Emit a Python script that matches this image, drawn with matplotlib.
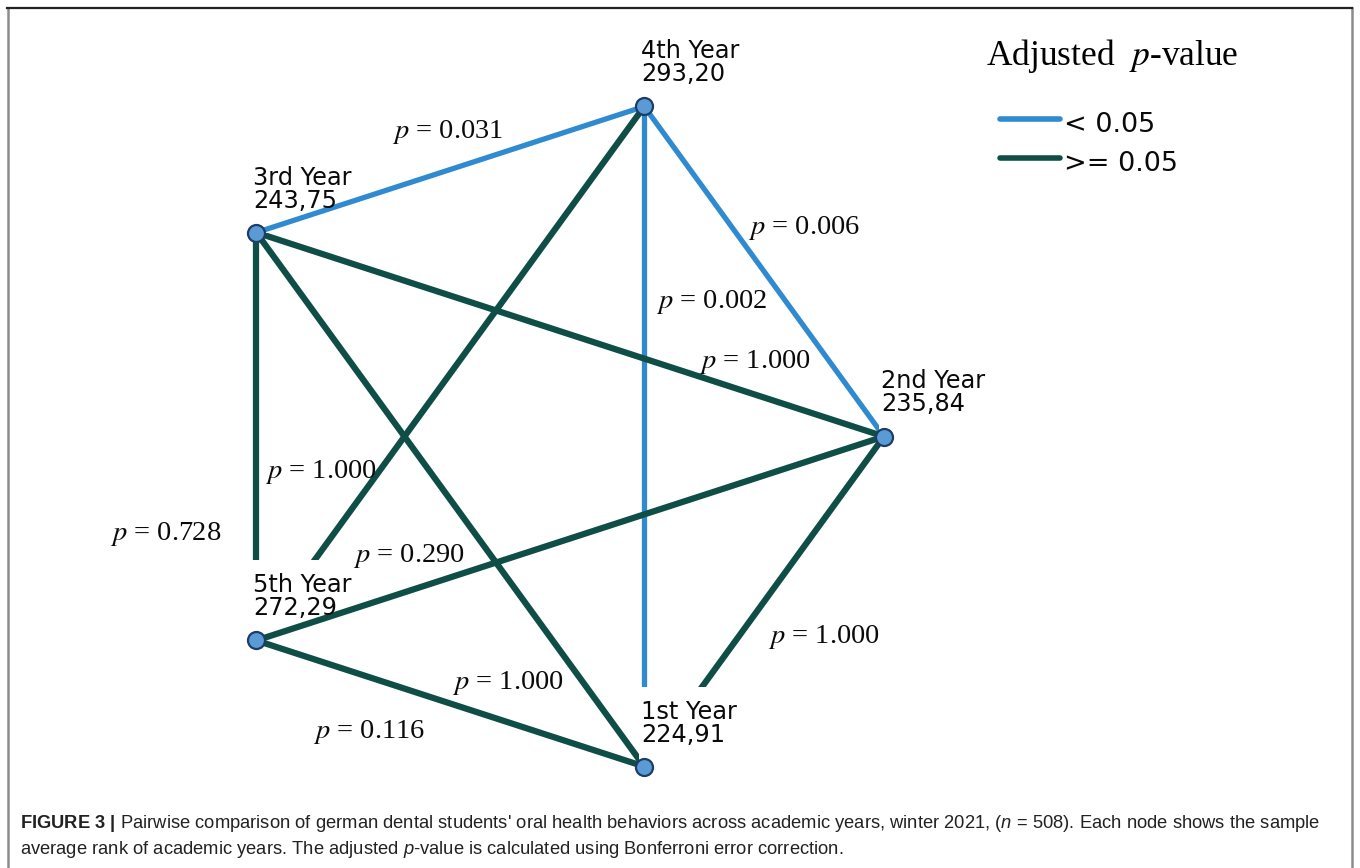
import matplotlib

matplotlib.use("Agg")

import matplotlib.pyplot as plt
import numpy as np
from matplotlib.lines import Line2D
from matplotlib.patches import Rectangle

# nodes, in the order they sit round the circle (counter-clockwise from the right)
node_names = ["2nd Year", "4th Year", "3rd Year", "5th Year", "1st Year"]
mean_ranks = [235.84, 293.20, 243.75, 272.29, 224.91]

# pairwise comparisons
edge_from = ["3rd Year", "4th Year", "4th Year", "3rd Year", "5th Year",
             "3rd Year", "5th Year", "2nd Year", "3rd Year", "5th Year"]
edge_to = ["4th Year", "2nd Year", "1st Year", "2nd Year", "4th Year",
           "5th Year", "2nd Year", "1st Year", "1st Year", "1st Year"]
p_values = [0.031, 0.006, 0.002, 1.000, 1.000, 0.728, 0.290, 1.000, 1.000, 0.116]

legend_labels = ["< 0.05", ">= 0.05"]
ALPHA = 0.05

CAPTION_1 = (r"$\mathbf{FIGURE\ 3\ |}$ Pairwise comparison of german dental students' "
             r"oral health behaviors across academic years, winter 2021, ($n$ = 508). "
             r"Each node shows the sample")
CAPTION_2 = (r"average rank of academic years. The adjusted $p$-value is calculated "
             r"using Bonferroni error correction.")

# layout / style
W, H = 1360, 868
CX, CY, R = 537.0, 436.5, 347.0  # circle centre and radius in pixels
BLUE = "#2f8ad0"
GREEN = "#0f4e47"
NODE_FILL = "#5b9bd5"
NODE_EDGE = "#1d3d62"

# label position of each edge, pixels from the edge midpoint (y downwards)
label_offsets = [(-58, -32), (-16, -37), (12, -129), (129, 33), (-185, 105),
                 (-146, 104), (-217, 24), (4, 41), (2, 189), (-137, 35)]
front_edges = {("3rd Year", "4th Year"), ("5th Year", "2nd Year")}

plt.rcParams["mathtext.fontset"] = "custom"
plt.rcParams["mathtext.rm"] = "Liberation Sans"
plt.rcParams["mathtext.it"] = "Liberation Sans:italic"
plt.rcParams["mathtext.bf"] = "Liberation Sans:bold"


def px(n):
    return n / R


def fig_xy(x, y):
    return x / W, 1 - y / H


fig = plt.figure(figsize=(W / 100, H / 100), dpi=100)
ax = fig.add_axes([0, 0, 1, 1])
ax.set_xlim(-CX / R, (W - CX) / R)
ax.set_ylim(-(H - CY) / R, CY / R)
ax.axis("off")

angles = np.deg2rad(np.arange(len(node_names)) * 360.0 / len(node_names))
pos = {name: (np.cos(a), np.sin(a)) for name, a in zip(node_names, angles)}

# edges
for a, b, p, (dx, dy) in zip(edge_from, edge_to, p_values, label_offsets):
    (x0, y0), (x1, y1) = pos[a], pos[b]
    sig = p < ALPHA
    ax.plot([x0, x1], [y0, y1], color=BLUE if sig else GREEN,
            lw=3.8 if sig else 4.5, solid_capstyle="butt",
            zorder=3 if (a, b) in front_edges else 1)
    ax.annotate(f"$p$ = {p:.3f}", xy=((x0 + x1) / 2, (y0 + y1) / 2),
                xytext=(dx, -dy), textcoords="offset pixels",
                ha="left", va="baseline", fontsize=20.5,
                family="Liberation Serif", math_fontfamily="stix",
                color="#0a0a0a", zorder=4)

# node labels (a white block hides the lines running behind them)
for name, rank in zip(node_names, mean_ranks):
    x, y = pos[name]
    ax.add_patch(Rectangle((x - px(5), y), px(112), px(80),
                           facecolor="white", edgecolor="none", zorder=2))
    ax.text(x - px(3), y + px(48), name, ha="left", va="baseline",
            fontsize=17.3, family="DejaVu Sans", color="#0a0a0a", zorder=4)
    ax.text(x - px(3), y + px(25), f"{rank:.2f}".replace(".", ","),
            ha="left", va="baseline", fontsize=17.3, family="DejaVu Sans",
            color="#0a0a0a", zorder=4)

ax.scatter([pos[n][0] for n in node_names], [pos[n][1] for n in node_names],
           s=150, color=NODE_FILL, edgecolor=NODE_EDGE, linewidth=1.6, zorder=5)

# legend
fig.text(*fig_xy(986, 65), r"Adjusted  $p$-value", ha="left", va="baseline",
         fontsize=25.5, family="Liberation Serif", math_fontfamily="stix")
for i, (label, colour) in enumerate(zip(legend_labels, [BLUE, GREEN])):
    ly = 119 + 39 * i
    fig.add_artist(Line2D([1000 / W, 1060 / W], [1 - ly / H] * 2,
                          transform=fig.transFigure, color=colour, lw=4,
                          solid_capstyle="round"))
    fig.text(*fig_xy(1064, ly + 13), label, ha="left", va="baseline",
             fontsize=19.5, family="DejaVu Sans", color="#0a0a0a")

# frame
fig.add_artist(Line2D([7.5 / W, 7.5 / W], [0, 1 - 8 / H], transform=fig.transFigure,
                      color="#8c8c8c", lw=1.8))
fig.add_artist(Line2D([1351.5 / W, 1351.5 / W], [0, 1 - 8 / H],
                      transform=fig.transFigure, color="#8c8c8c", lw=1.8))
fig.add_artist(Line2D([7 / W, 1352 / W], [1 - 8 / H] * 2, transform=fig.transFigure,
                      color="#222222", lw=1.6))

# caption
fig.text(*fig_xy(20, 828), CAPTION_1, ha="left", va="baseline", fontsize=13.25,
         family="Liberation Sans", color="#222222")
fig.text(*fig_xy(20, 854), CAPTION_2, ha="left", va="baseline", fontsize=13.25,
         family="Liberation Sans", color="#222222")

fig.savefig("out.png", dpi=100, facecolor="white")
